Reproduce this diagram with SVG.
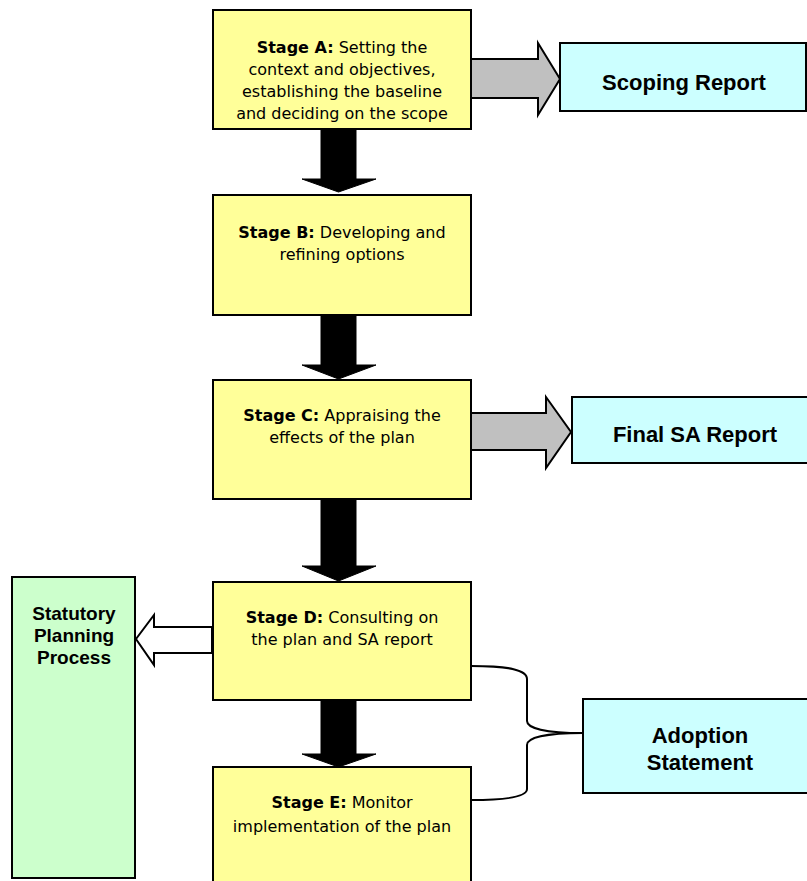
<svg xmlns="http://www.w3.org/2000/svg" width="807" height="881" viewBox="0 0 807 881">
<style>
.stage{fill:#FFFF99;stroke:#000;stroke-width:2}
.out{fill:#CCFFFF;stroke:#000;stroke-width:2}
.stat{fill:#CCFFCC;stroke:#000;stroke-width:2}
.st{font-family:"DejaVu Sans",Verdana,sans-serif;font-size:16px;fill:#000;text-anchor:middle}
.st .b{font-weight:bold}
.ti{font-family:"Liberation Sans",Arial,sans-serif;font-weight:bold;font-size:22px;fill:#000;text-anchor:middle}
.down{fill:#000;stroke:#000;stroke-width:1}
.gray{fill:#C0C0C0;stroke:#000;stroke-width:2;stroke-linejoin:miter}
.white{fill:#FFF;stroke:#000;stroke-width:2}
.brace{fill:none;stroke:#000;stroke-width:2}
</style>
<rect width="807" height="881" fill="#FFFFFF"/>
<g id="connectors">
  <polygon class="down" points="321,129 356,129 356,179 376,179 338.5,192 302,179 321,179"/>
  <polygon class="down" points="321,315 356,315 356,365 376,365 338.5,379 302,365 321,365"/>
  <polygon class="down" points="321,499 356,499 356,566 376,566 338.5,581 302,566 321,566"/>
  <polygon class="down" points="321,700 356,700 356,754 376,754 338.5,767 302,754 321,754"/>
  <polygon class="gray" points="471,59 538,59 538,43 560,79 538,115 538,98 471,98"/>
  <polygon class="gray" points="471,413 546,413 546,397 571,432 546,468 546,450 471,450"/>
  <polygon class="white" points="212,627 154,627 154,615 136,639 154,665 154,653 212,653"/>
  <path class="brace" d="M471,666 C510,666 527,670 527,679 L527,721 C527,728 545,733 583,733 C545,733 527,738 527,745 L527,789 C527,796 510,800 471,800"/>
</g>
<g id="stageA">
  <rect class="stage" x="213" y="10" width="258" height="119"/>
  <text class="st" x="342" y="53"><tspan class="b">Stage A:</tspan> Setting the</text>
  <text class="st" x="342" y="75">context and objectives,</text>
  <text class="st" x="342" y="97">establishing the baseline</text>
  <text class="st" x="342" y="119">and deciding on the scope</text>
</g>
<g id="stageB">
  <rect class="stage" x="213" y="195" width="258" height="120"/>
  <text class="st" x="342" y="238"><tspan class="b">Stage B:</tspan> Developing and</text>
  <text class="st" x="342" y="260">refining options</text>
</g>
<g id="stageC">
  <rect class="stage" x="213" y="380" width="258" height="119"/>
  <text class="st" x="342" y="421"><tspan class="b">Stage C:</tspan> Appraising the</text>
  <text class="st" x="342" y="443">effects of the plan</text>
</g>
<g id="stageD">
  <rect class="stage" x="213" y="582" width="258" height="118"/>
  <text class="st" x="342" y="623"><tspan class="b">Stage D:</tspan> Consulting on</text>
  <text class="st" x="342" y="645">the plan and SA report</text>
</g>
<g id="stageE">
  <rect class="stage" x="213" y="767" width="258" height="120"/>
  <text class="st" x="342" y="808"><tspan class="b">Stage E:</tspan> Monitor</text>
  <text class="st" x="342" y="832">implementation of the plan</text>
</g>
<g id="scoping">
  <rect class="out" x="560" y="43" width="246" height="68"/>
  <text class="ti" x="684" y="90">Scoping Report</text>
</g>
<g id="finalSA">
  <rect class="out" x="572" y="397" width="240" height="66"/>
  <text class="ti" x="695" y="442">Final SA Report</text>
</g>
<g id="adoption">
  <rect class="out" x="583" y="699" width="230" height="94"/>
  <text class="ti" x="700" y="743">Adoption</text>
  <text class="ti" x="700" y="770">Statement</text>
</g>
<g id="statutory">
  <rect class="stat" x="12" y="577" width="123" height="301"/>
  <text class="ti" x="74" y="620" style="font-size:19px">Statutory</text>
  <text class="ti" x="74" y="642" style="font-size:19px">Planning</text>
  <text class="ti" x="74" y="664" style="font-size:19px">Process</text>
</g>
</svg>
